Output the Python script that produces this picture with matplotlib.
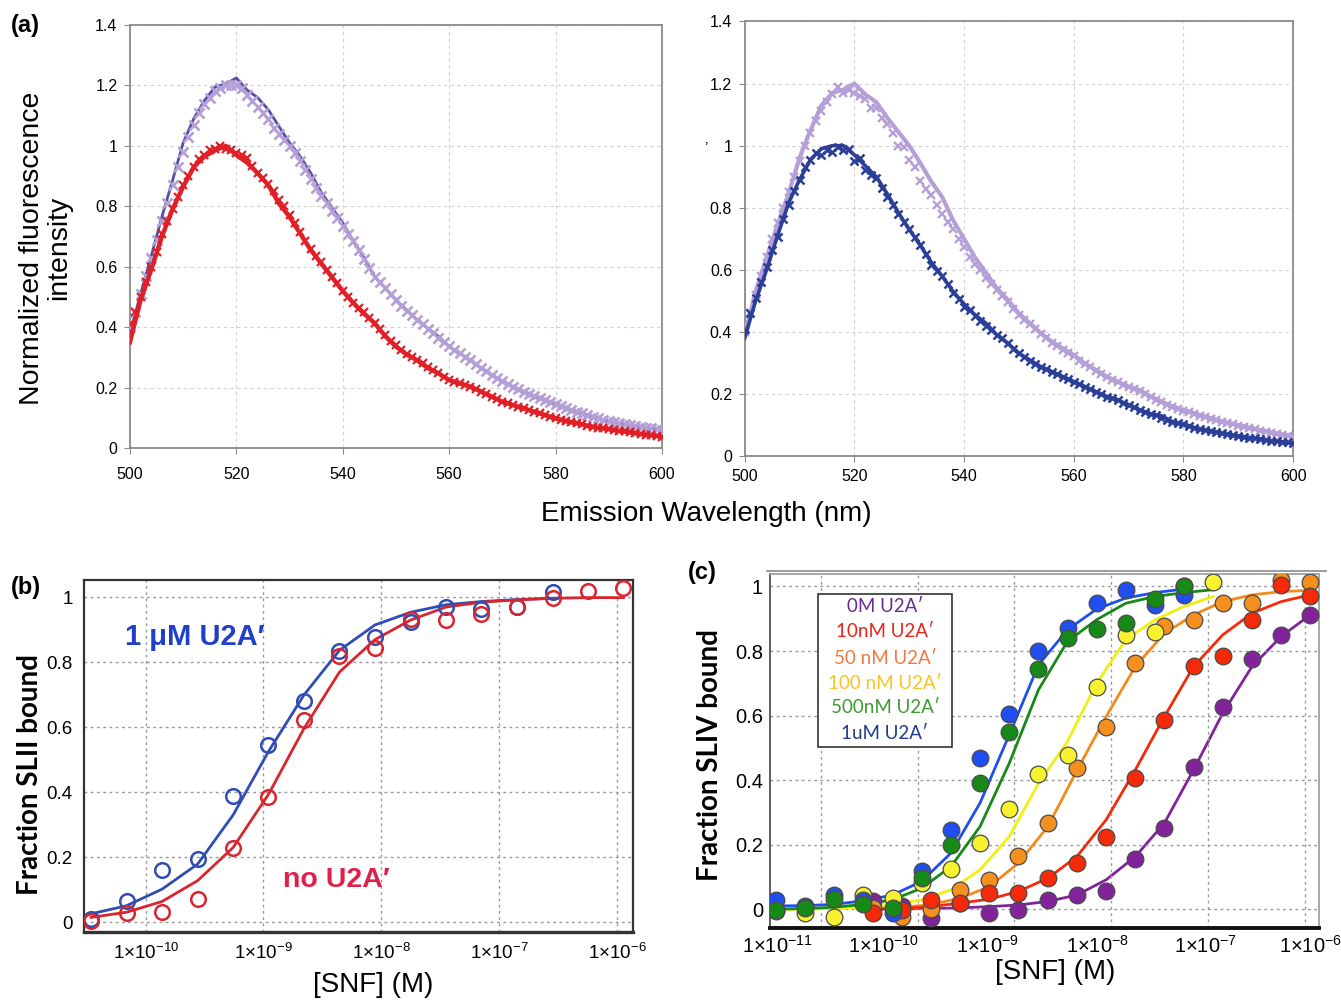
import numpy as np
import matplotlib
matplotlib.use("Agg")
import matplotlib.pyplot as plt
from matplotlib.ticker import FixedLocator, NullLocator, NullFormatter
from matplotlib.patches import Rectangle
from matplotlib.lines import Line2D

plt.rcParams['font.family'] = ['Liberation Sans', 'DejaVu Sans']
plt.rcParams['mathtext.default'] = 'regular'

# ---------------- panel (a): emission spectra ----------------
# lines every 2 nm, markers every 1 nm (500..600 nm)
red_left_line = [0.35, 0.49, 0.59, 0.70, 0.79, 0.865, 0.93, 0.965, 0.985, 1.00,
                 0.97, 0.945, 0.91, 0.87, 0.81, 0.765, 0.71, 0.655, 0.61, 0.565,
                 0.52, 0.48, 0.445, 0.413, 0.37, 0.336, 0.31, 0.29, 0.265, 0.247,
                 0.225, 0.214, 0.203, 0.187, 0.17, 0.153, 0.142, 0.131, 0.12, 0.109,
                 0.098, 0.089, 0.082, 0.074, 0.067, 0.062, 0.057, 0.052, 0.046, 0.042,
                 0.038]
red_left_pts = [0.41, 0.45, 0.50, 0.55, 0.60, 0.65, 0.71, 0.75, 0.79, 0.83,
                0.87, 0.90, 0.93, 0.955, 0.97, 0.985, 0.99, 1.00, 0.99, 0.985,
                0.975, 0.97, 0.96, 0.935, 0.91, 0.895, 0.875, 0.85, 0.82, 0.80,
                0.77, 0.745, 0.715, 0.685, 0.66, 0.635, 0.615, 0.59, 0.565, 0.545,
                0.52, 0.50, 0.48, 0.465, 0.45, 0.43, 0.415, 0.395, 0.375, 0.355,
                0.34, 0.325, 0.31, 0.30, 0.29, 0.28, 0.267, 0.257, 0.247, 0.236,
                0.226, 0.22, 0.214, 0.208, 0.202, 0.195, 0.187, 0.178, 0.17, 0.162,
                0.154, 0.148, 0.142, 0.137, 0.131, 0.126, 0.12, 0.115, 0.109, 0.104,
                0.098, 0.094, 0.09, 0.086, 0.082, 0.078, 0.074, 0.071, 0.068, 0.065,
                0.062, 0.06, 0.057, 0.055, 0.052, 0.049, 0.046, 0.044, 0.042, 0.04,
                0.038]
purple_left_line = [0.38, 0.51, 0.635, 0.765, 0.885, 1.01, 1.09, 1.15, 1.195, 1.205,
                    1.225, 1.185, 1.16, 1.12, 1.065, 1.01, 0.965, 0.91, 0.845, 0.795,
                    0.745, 0.685, 0.63, 0.567, 0.529, 0.49, 0.457, 0.424, 0.396, 0.369,
                    0.336, 0.313, 0.291, 0.264, 0.242, 0.22, 0.203, 0.187, 0.17, 0.159,
                    0.146, 0.131, 0.12, 0.109, 0.098, 0.089, 0.082, 0.076, 0.071, 0.065,
                    0.06]
lilac_left_pts = [0.40, 0.45, 0.51, 0.57, 0.63, 0.69, 0.75, 0.81, 0.87, 0.93,
                  0.98, 1.03, 1.07, 1.11, 1.14, 1.16, 1.18, 1.19, 1.20, 1.20,
                  1.20, 1.19, 1.17, 1.15, 1.13, 1.11, 1.09, 1.06, 1.04, 1.02,
                  1.00, 0.975, 0.95, 0.92, 0.89, 0.86, 0.835, 0.81, 0.785, 0.76,
                  0.735, 0.71, 0.685, 0.655, 0.625, 0.595, 0.567, 0.548, 0.529, 0.51,
                  0.49, 0.47, 0.455, 0.44, 0.425, 0.41, 0.395, 0.38, 0.365, 0.35,
                  0.338, 0.325, 0.313, 0.302, 0.29, 0.278, 0.265, 0.254, 0.243, 0.232,
                  0.222, 0.212, 0.203, 0.195, 0.187, 0.179, 0.171, 0.165, 0.159, 0.152,
                  0.146, 0.139, 0.132, 0.126, 0.12, 0.115, 0.11, 0.104, 0.099, 0.094,
                  0.09, 0.086, 0.082, 0.079, 0.076, 0.073, 0.071, 0.068, 0.065, 0.062,
                  0.06]
blue_right_line = [0.38, 0.50, 0.60, 0.71, 0.815, 0.89, 0.955, 0.99, 1.00, 1.00,
                   0.97, 0.935, 0.90, 0.845, 0.785, 0.73, 0.68, 0.625, 0.58, 0.53,
                   0.49, 0.455, 0.428, 0.39, 0.363, 0.331, 0.31, 0.288, 0.272, 0.256,
                   0.24, 0.224, 0.208, 0.192, 0.181, 0.165, 0.149, 0.135, 0.13, 0.111,
                   0.103, 0.092, 0.084, 0.077, 0.07, 0.065, 0.06, 0.055, 0.05, 0.046,
                   0.042]
blue_right_pts = [0.41, 0.46, 0.51, 0.56, 0.61, 0.665, 0.705, 0.765, 0.81, 0.855,
                  0.89, 0.93, 0.955, 0.975, 0.97, 0.985, 0.98, 0.995, 0.985, 0.99,
                  0.95, 0.96, 0.92, 0.905, 0.895, 0.865, 0.835, 0.81, 0.78, 0.755,
                  0.73, 0.705, 0.68, 0.65, 0.615, 0.595, 0.58, 0.555, 0.525, 0.505,
                  0.48, 0.47, 0.45, 0.435, 0.42, 0.405, 0.39, 0.38, 0.363, 0.345,
                  0.332, 0.32, 0.308, 0.298, 0.288, 0.28, 0.272, 0.263, 0.255, 0.248,
                  0.24, 0.232, 0.224, 0.216, 0.208, 0.2, 0.192, 0.186, 0.18, 0.172,
                  0.164, 0.157, 0.15, 0.142, 0.136, 0.134, 0.124, 0.117, 0.111, 0.107,
                  0.103, 0.097, 0.092, 0.088, 0.084, 0.08, 0.077, 0.073, 0.07, 0.067,
                  0.065, 0.062, 0.06, 0.057, 0.055, 0.052, 0.05, 0.048, 0.046, 0.044,
                  0.042]
lilac_right_line = [0.39, 0.53, 0.64, 0.745, 0.845, 0.96, 1.05, 1.13, 1.17, 1.18,
                    1.20, 1.165, 1.14, 1.09, 1.045, 1.00, 0.945, 0.885, 0.835, 0.76,
                    0.70, 0.64, 0.59, 0.54, 0.503, 0.46, 0.428, 0.396, 0.369, 0.347,
                    0.326, 0.299, 0.278, 0.256, 0.24, 0.224, 0.213, 0.192, 0.176, 0.16,
                    0.149, 0.138, 0.127, 0.117, 0.108, 0.10, 0.092, 0.084, 0.077, 0.07,
                    0.065]
lilac_right_pts = [0.40, 0.46, 0.52, 0.58, 0.64, 0.70, 0.75, 0.80, 0.85, 0.90,
                   0.95, 1.00, 1.04, 1.08, 1.11, 1.14, 1.165, 1.19, 1.17, 1.18,
                   1.17, 1.16, 1.15, 1.12, 1.12, 1.09, 1.07, 1.04, 1.00, 0.995,
                   0.955, 0.93, 0.885, 0.86, 0.84, 0.81, 0.78, 0.755, 0.73, 0.70,
                   0.675, 0.64, 0.62, 0.60, 0.575, 0.555, 0.535, 0.515, 0.495, 0.475,
                   0.455, 0.44, 0.425, 0.41, 0.393, 0.38, 0.365, 0.355, 0.343, 0.333,
                   0.322, 0.308, 0.296, 0.286, 0.275, 0.264, 0.254, 0.246, 0.238, 0.23,
                   0.222, 0.216, 0.21, 0.20, 0.19, 0.182, 0.174, 0.166, 0.158, 0.153,
                   0.147, 0.141, 0.136, 0.13, 0.125, 0.12, 0.115, 0.11, 0.106, 0.102,
                   0.098, 0.094, 0.09, 0.086, 0.082, 0.079, 0.075, 0.072, 0.069, 0.066,
                   0.063]

wl_line = 500 + 2 * np.arange(len(red_left_line))
wl_pts = 500 + np.arange(len(red_left_pts))

# ---------------- panel (b): SLII binding ----------------
conc_b = [3.45e-11, 6.90e-11, 1.38e-10, 2.76e-10, 5.52e-10, 1.10e-9, 2.21e-9, 4.41e-9,
          8.83e-9, 1.77e-8, 3.53e-8, 7.06e-8, 1.41e-7, 2.83e-7, 5.65e-7, 1.13e-6]
u2a_b = [0.01, 0.066, 0.162, 0.194, 0.388, 0.546, 0.681, 0.835, 0.878, 0.925,
         0.969, 0.964, 0.97, 1.015]
u2a_b_fit = [0.026, 0.051, 0.102, 0.179, 0.33, 0.525, 0.70, 0.837, 0.915, 0.954,
             0.977, 0.987, 0.993, 0.997]
none_b = [0.003, 0.029, 0.033, 0.071, 0.228, 0.386, 0.622, 0.818, 0.844, 0.934,
          0.929, 0.949, 0.971, 0.997, 1.02, 1.028]
none_b_fit = [0.015, 0.031, 0.064, 0.128, 0.23, 0.393, 0.597, 0.77, 0.87, 0.93,
              0.97, 0.985, 0.992, 0.997, 0.999, 0.999]

# ---------------- panel (c): SLIV binding ----------------
conc_lo = [3.45e-12, 6.90e-12, 1.38e-11, 2.76e-11, 5.52e-11, 1.10e-10, 2.21e-10, 4.41e-10,
           8.83e-10, 1.77e-9, 3.53e-9, 7.06e-9, 1.41e-8, 2.83e-8, 5.65e-8, 1.13e-7]
conc_hi = conc_b
c_labels = ["0M U2A\u2032", "10nM U2A\u2032", "50 nM U2A\u2032",
            "100 nM U2A\u2032", "500nM U2A\u2032", "1uM U2A\u2032"]
c_0 = [0.024, 0.01, -0.028, 0.02, -0.012, -0.002, 0.029, 0.044, 0.055, 0.155,
       0.253, 0.442, 0.625, 0.775, 0.85, 0.912]
c_0_fit = [0.0, 0.001, 0.002, 0.004, 0.008, 0.013, 0.024, 0.044, 0.091, 0.163,
           0.267, 0.432, 0.607, 0.752, 0.845, 0.912]
c_10 = [-0.012, -0.002, 0.029, 0.019, 0.05, 0.05, 0.096, 0.143, 0.225, 0.406,
        0.587, 0.752, 0.783, 0.897, 1.005, 0.971]
c_10_fit = [0.0, 0.002, 0.008, 0.019, 0.031, 0.055, 0.096, 0.163, 0.277, 0.432,
            0.597, 0.752, 0.85, 0.917, 0.953, 0.974]
c_50 = [0.005, -0.023, 0.0, 0.058, 0.091, 0.165, 0.267, 0.437, 0.566, 0.764,
        0.878, 0.895, 0.95, 0.95, 1.02, 1.015]
c_50_fit = [0.0, 0.005, 0.015, 0.034, 0.07, 0.143, 0.256, 0.43, 0.597, 0.752,
            0.855, 0.912, 0.953, 0.974, 0.984, 0.988]
c_100 = [-0.007, -0.012, -0.023, 0.044, 0.034, 0.08, 0.124, 0.205, 0.31, 0.419,
         0.478, 0.688, 0.85, 0.86, 1.0, 1.015]
c_100_fit = [0.0, 0.0, 0.002, 0.006, 0.013, 0.029, 0.06, 0.122, 0.225, 0.39,
             0.52, 0.70, 0.835, 0.897, 0.938, 0.969]
c_500 = [-0.002, 0.003, 0.031, 0.015, 0.003, 0.096, 0.199, 0.39, 0.548, 0.744,
         0.84, 0.868, 0.888, 0.961, 1.0]
c_500_fit = [0.0, 0.002, 0.006, 0.015, 0.029, 0.065, 0.132, 0.256, 0.452, 0.68,
             0.83, 0.897, 0.948, 0.969, 0.981, 0.99]
c_1u = [0.029, 0.01, 0.044, 0.03, -0.012, 0.117, 0.244, 0.468, 0.605, 0.799,
        0.87, 0.948, 0.988, 0.943, 0.974]
c_1u_fit = [0.01, 0.011, 0.015, 0.026, 0.044, 0.086, 0.174, 0.329, 0.54, 0.757,
            0.866, 0.93, 0.964, 0.981, 0.992]

fig = plt.figure(figsize=(13.41, 10.01), dpi=100)


def spectrum_axes(rect, xpad):
    ax = fig.add_axes(rect)
    ax.set_xlim(500, 600)
    ax.set_ylim(0, 1.4)
    ax.set_xticks(range(500, 601, 20))
    ax.set_yticks([0, 0.2, 0.4, 0.6, 0.8, 1.0, 1.2, 1.4])
    ax.set_yticklabels(['0', '0.2', '0.4', '0.6', '0.8', '1', '1.2', '1.4'])
    ax.grid(color='#d2d2d2', ls=(0, (3, 3)), lw=0.8)
    for s in ax.spines.values():
        s.set_color('#8a8a8a')
        s.set_linewidth(1.3)
    ax.tick_params(labelsize=11.5, length=4, color='#8a8a8a', pad=5)
    ax.tick_params(axis='x', pad=xpad)
    return ax


# (a) left
ax1 = spectrum_axes([0.0969, 0.5524, 0.3967, 0.4226], 10)
ax1.plot(wl_line, purple_left_line, color='#5450a8', lw=2.0, zorder=3)
ax1.plot(wl_pts, lilac_left_pts, ls='none', marker='x', ms=7.5, mew=1.9,
         color='#b49fd6', zorder=4)
ax1.plot(wl_pts, red_left_pts, ls='none', marker='x', ms=5.5, mew=1.6,
         color='#e01f27', zorder=5)
ax1.plot(wl_line, red_left_line, color='#e01f27', lw=3.2, zorder=6)

# (a) right
ax2 = spectrum_axes([0.5553, 0.5443, 0.4090, 0.4343], 5)
ax2.plot(wl_line, lilac_right_line, color='#b49fd6', lw=3.0, zorder=3)
ax2.plot(wl_pts, lilac_right_pts, ls='none', marker='x', ms=6, mew=1.7,
         color='#b49fd6', zorder=4)
ax2.plot(wl_line, blue_right_line, color='#2b3f98', lw=2.6, zorder=5)
ax2.plot(wl_pts, blue_right_pts, ls='none', marker='x', ms=5.5, mew=1.8,
         color='#2b3f98', zorder=6)

fig.text(0.008, 0.975, '(a)', fontsize=17, fontweight='bold', va='center')
fig.text(0.034, 0.752, 'Normalized fluorescence\nintensity', rotation=90,
         fontsize=20.5, ha='center', va='center', linespacing=1.05)
fig.text(0.527, 0.4865, 'Emission Wavelength (nm)', fontsize=20,
         ha='center', va='center')
fig.text(0.526, 0.853, '\u2019', fontsize=11, ha='center', va='center')


def log_label(e):
    return r'$1{\times}10^{%d}$' % e


# (b)
axb = fig.add_axes([0.0626, 0.0689, 0.4094, 0.3516])
axb.set_xscale('log')
axb.set_xlim(3.0e-11, 1.36e-6)
axb.set_ylim(-0.03, 1.053)
axb.set_xticks([1e-10, 1e-9, 1e-8, 1e-7, 1e-6])
axb.set_xticklabels([log_label(e) for e in range(-10, -5)])
axb.xaxis.set_minor_locator(NullLocator())
axb.set_yticks([0, 0.2, 0.4, 0.6, 0.8, 1.0])
axb.set_yticklabels(['0', '0.2', '0.4', '0.6', '0.8', '1'])
axb.grid(color='#9a9a9a', ls=(0, (2, 2.5)), lw=1.0)
axb.tick_params(labelsize=13.5, length=0, pad=8)
for s in axb.spines.values():
    s.set_color('#333333')
    s.set_linewidth(1.6)
axb.spines['bottom'].set_linewidth(2.4)
axb.plot(conc_b[:len(u2a_b_fit)], u2a_b_fit, color='#2f4db5', lw=2.0, zorder=3)
axb.plot(conc_b, none_b_fit, color='#d9262e', lw=2.0, zorder=3)
axb.plot(conc_b[:len(u2a_b)], u2a_b, ls='none', marker='o', ms=10.5, mfc='none',
         mec='#2f4db5', mew=1.8, zorder=4)
axb.plot(conc_b, none_b, ls='none', marker='o', ms=10.5, mfc='none',
         mec='#d9262e', mew=1.8, zorder=5)
axb.text(0.075, 0.838, '1 \u03bcM U2A\u2032', transform=axb.transAxes,
         fontsize=21, fontweight='bold', color='#1f3fc8', va='center')
axb.text(0.362, 0.148, 'no U2A\u2032', transform=axb.transAxes,
         fontsize=20.5, fontweight='bold', color='#e0204a', va='center')
fig.text(0.008, 0.413, '(b)', fontsize=17, fontweight='bold', va='center')
fig.text(0.0224, 0.2258, 'Fraction SLII bound', rotation=90, fontsize=20,
         fontweight='bold', family=['Lato', 'DejaVu Sans'], ha='center', va='center')
fig.text(0.278, 0.016, '[SNF] (M)', fontsize=20, ha='center', va='center')

# (c)
axc = fig.add_axes([0.5742, 0.0727, 0.4094, 0.354])
axc.set_xscale('log')
axc.set_xlim(3.0e-12, 1.39e-6)
axc.set_ylim(-0.059, 1.039)
# tick labels sit where the original figure printed them; grid lines on decades
axc.set_xticks([3.54e-12, 4.43e-11, 5.26e-10, 7.23e-9, 9.25e-8, 1.13e-6])
axc.set_xticklabels([log_label(e) for e in range(-11, -5)])
axc.xaxis.set_minor_locator(FixedLocator([1e-11, 1e-10, 1e-9, 1e-8, 1e-7, 1e-6]))
axc.xaxis.set_minor_formatter(NullFormatter())
axc.set_yticks([0, 0.2, 0.4, 0.6, 0.8, 1.0])
axc.set_yticklabels(['0', '0.2', '0.4', '0.6', '0.8', '1'])
axc.grid(which='minor', axis='x', color='#9a9a9a', ls=(0, (2, 2.5)), lw=1.0)
axc.grid(which='major', axis='y', color='#9a9a9a', ls=(0, (2, 2.5)), lw=1.0)
axc.tick_params(which='both', labelsize=14.5, length=0, pad=5)
for s in axc.spines.values():
    s.set_color('#444444')
    s.set_linewidth(1.2)
axc.spines['bottom'].set_linewidth(2.8)
axc.spines['bottom'].set_color('#111111')
axc.spines['top'].set_color('#9a9a9a')
axc.spines['right'].set_color('#9a9a9a')
fig.add_artist(Line2D([0.572, 0.989], [0.4295, 0.4295], color='#8a8a8a', lw=1.2))

series = [
    (conc_hi, c_0, c_0_fit, '#82239c', '#82239c', 1),
    (conc_hi, c_50, c_50_fit, '#f5901e', '#f58a1a', 2),
    (conc_hi, c_10, c_10_fit, '#f52a08', '#f52a08', 3),
    (conc_lo, c_100, c_100_fit, '#f7f230', '#f2ef10', 4),
    (conc_lo, c_1u, c_1u_fit, '#1f4ff0', '#1f4ff0', 5),
    (conc_lo, c_500, c_500_fit, '#168a16', '#168a16', 6),
]
for conc, vals, fit, face, line, z in series:
    axc.plot(conc[:len(fit)], fit, color=line, lw=2.0, zorder=z)
for conc, vals, fit, face, line, z in series:
    axc.plot(conc[:len(vals)], vals, ls='none', marker='o', ms=12, mfc=face,
             mec='#4a4a4a', mew=0.9, zorder=10 + z)

axc.add_patch(Rectangle((0.0874, 0.5117), 0.2441, 0.4319, transform=axc.transAxes,
                        facecolor='white', edgecolor='#333333', lw=1.2, zorder=30))
legend_colors = ['#6b2a92', '#e8231a', '#f4783c', '#f9c224', '#3f9a32', '#1f3a92']
legend_y = [0.9069, 0.8363, 0.760, 0.6895, 0.6218, 0.5484]
for txt, col, y in zip(c_labels, legend_colors, legend_y):
    axc.text(0.2095, y, txt, transform=axc.transAxes, color=col, fontsize=13.5,
             ha='center', va='center', family=['Lato', 'DejaVu Sans'], zorder=31)

fig.text(0.513, 0.428, '(c)', fontsize=17, fontweight='bold', va='center')
fig.text(0.5295, 0.2458, 'Fraction SLIV bound', rotation=90, fontsize=20,
         fontweight='bold', family=['Lato', 'DejaVu Sans'], ha='center', va='center')
fig.text(0.787, 0.029, '[SNF] (M)', fontsize=20, ha='center', va='center')

fig.savefig('out.png', dpi=100)
